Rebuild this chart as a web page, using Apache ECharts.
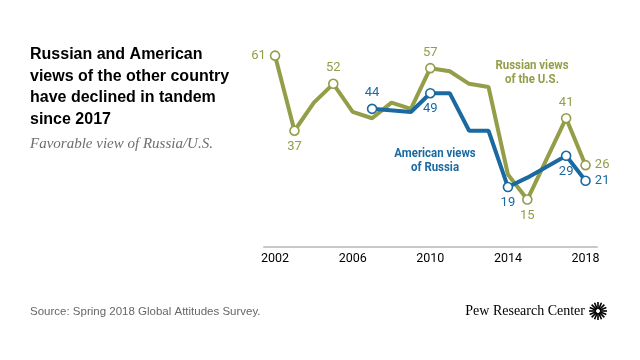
<!DOCTYPE html>
<html><head><meta charset="utf-8">
<script src="https://cdn.jsdelivr.net/npm/echarts@6/dist/echarts.min.js"></script>
<style>html,body{margin:0;padding:0;background:#fff}#c{width:640px;height:360px}</style>
</head><body><div id="c"></div>
<script>
var years = [2002,2003,2004,2005,2006,2007,2008,2009,2010,2011,2012,2013,2014,2015,2016,2017,2018];
var russianViewsOfUS = [61,37,46,52,43,41,46,44,57,56,52,51,23,15,null,41,26];
var americanViewsOfRussia = [null,null,null,null,null,44,null,43,49,49,37,37,19,22,null,29,21];
var yearTicks = [2002,2006,2010,2014,2018];
var russianMarked = {2002:'left',2003:'bottom',2005:'top',2010:'top',2015:'bottom',2017:'top',2018:'right'};
var americanMarked = {2007:'top',2010:'bottom',2014:'bottom',2017:'bottom',2018:'right'};
var GREEN = '#949d48', BLUE = '#1a6aa1';
var numFont = 'Roboto, "Liberation Sans", Arial, sans-serif';
var condFont = 'Roboto, "Liberation Sans", Arial, sans-serif';

function build(vals, marks, color){
  return years.map(function(y,i){
    var v = vals[i];
    if (v === null) return [y, null];
    var pos = marks[y];
    if (!pos) return {value:[y,v], symbol:'none'};
    return {value:[y,v], symbol:'circle', symbolSize:9,
      itemStyle:{color:'#fff', borderColor:color, borderWidth:1.6},
      label:{show:true, position:pos, distance:4, color:color, fontSize:13, fontFamily:numFont}};
  });
}

var spokes = [];
for (var k=0;k<16;k++){
  var a = k*Math.PI/8;
  spokes.push({type:'line', shape:{x1:598+2*Math.cos(a), y1:311+2*Math.sin(a), x2:598+9*Math.cos(a), y2:311+9*Math.sin(a)}, style:{stroke:'#000', lineWidth:1.6}});
}

var chart = echarts.init(document.getElementById('c'));
chart.setOption({
  animation:false,
  grid:{left:264, right:43, top:27.5, bottom:113.5},
  xAxis:{type:'value', min:2001.43, max:2018.59,
    axisLine:{show:true, lineStyle:{color:'#c8c8c8', width:2}},
    axisTick:{show:false}, splitLine:{show:false},
    axisLabel:{customValues:yearTicks, color:'#000', fontSize:12.5, fontFamily:numFont, margin:6, formatter:function(v){return String(v);}}},
  yAxis:{type:'value', min:0, max:70, show:false, splitLine:{show:false}},
  series:[
    {type:'line', name:'American views of Russia', data:build(americanViewsOfRussia, americanMarked, BLUE), connectNulls:true,
      lineStyle:{color:BLUE, width:4}, itemStyle:{color:BLUE}, showSymbol:true, z:3},
    {type:'line', name:'Russian views of the U.S.', data:build(russianViewsOfUS, russianMarked, GREEN), connectNulls:true,
      lineStyle:{color:GREEN, width:4}, itemStyle:{color:GREEN}, showSymbol:true, z:2}
  ],
  graphic:[
    {type:'text', left:30, top:44, style:{text:'Russian and American\nviews of the other country\nhave declined in tandem\nsince 2017', font:'bold 16px "Liberation Sans", Arial, sans-serif', fill:'#000', lineHeight:21.5}},
    {type:'text', left:30, top:137, style:{text:'Favorable view of Russia/U.S.', font:'italic 15px "Liberation Serif", "Times New Roman", serif', fill:'#6e6e6e'}},
    {type:'text', left:30, top:306, style:{text:'Source: Spring 2018 Global Attitudes Survey.', font:'11.5px "Liberation Sans", Arial, sans-serif', fill:'#666'}},
    {type:'text', right:55, top:304, style:{text:'Pew Research Center', font:'14px "Liberation Serif", "Times New Roman", serif', fill:'#000'}},
    {type:'group', children:spokes},
    {type:'text', x:532, y:58, scaleX:0.88, style:{text:'Russian views\nof the U.S.', align:'center', font:'bold 13px ' + condFont, fill:GREEN, lineHeight:14.5}},
    {type:'text', x:435, y:146, scaleX:0.88, style:{text:'American views\nof Russia', align:'center', font:'bold 13px ' + condFont, fill:BLUE, lineHeight:14.5}}
  ]
});
</script></body></html>
